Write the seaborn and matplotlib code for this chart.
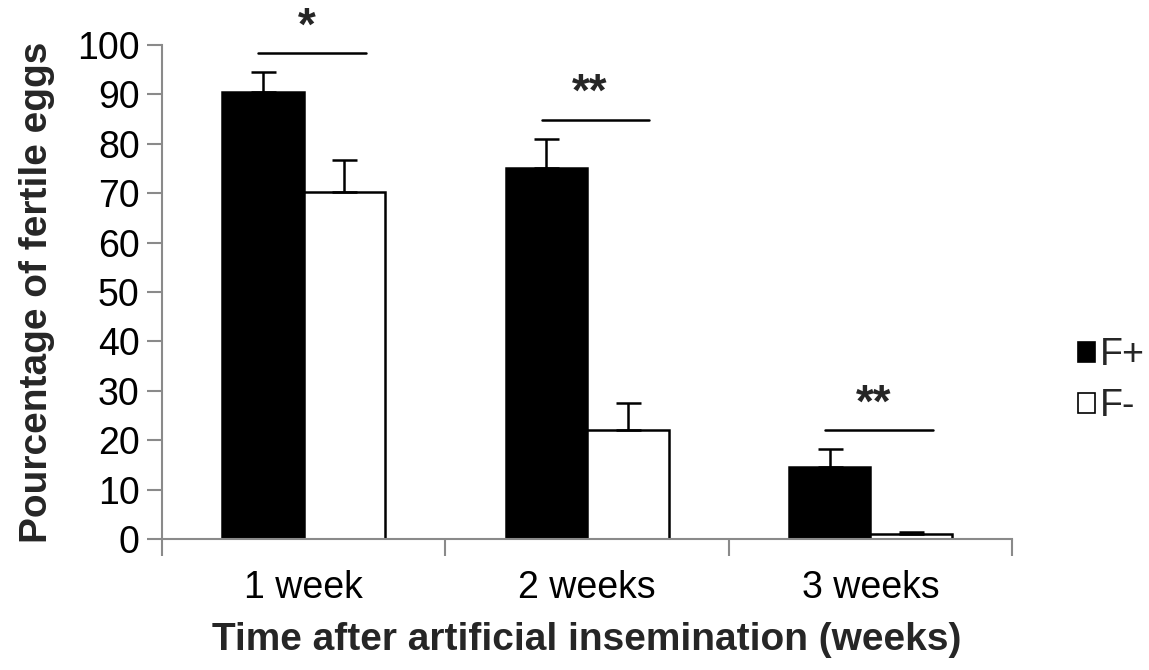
import numpy as np
import pandas as pd
import matplotlib
matplotlib.use("Agg")
import matplotlib.pyplot as plt
import seaborn as sns
from matplotlib.patches import Patch

# =====================================================
# DATA
# =====================================================

weeks = ["1 week", "2 weeks", "3 weeks"]
groups = ["F+", "F-"]

f_plus_mean = [90.4, 75.2, 14.6]
f_plus_err = [4.1, 5.7, 3.6]
f_minus_mean = [70.2, 22.1, 1.0]
f_minus_err = [6.5, 5.4, 0.4]

sig_labels = ["*", "**", "**"]
sig_heights = [98.3, 84.8, 22.0]

df = pd.DataFrame({
    "week": weeks * 2,
    "group": ["F+"] * 3 + ["F-"] * 3,
    "value": f_plus_mean + f_minus_mean,
    "err": f_plus_err + f_minus_err,
})

# =====================================================
# STYLE
# =====================================================

sns.set_theme(style="white")
plt.rcParams["font.family"] = ["Liberation Sans", "DejaVu Sans"]

GREY = "#8a8a8a"

fig = plt.figure(figsize=(11.49, 6.70), dpi=100)
ax = fig.add_axes([0.141, 0.1955, 0.7399, 0.7373])

# =====================================================
# BARS
# =====================================================

sns.barplot(
    data=df,
    x="week",
    y="value",
    hue="group",
    hue_order=groups,
    order=weeks,
    palette={"F+": "black", "F-": "white"},
    edgecolor="black",
    linewidth=1.8,
    width=0.575,
    gap=0,
    errorbar=None,
    legend=False,
    ax=ax,
)

# error bars (upper only), placed on the drawn bars
for patch, (_, row) in zip(ax.patches, df.iterrows()):
    cx = patch.get_x() + patch.get_width() / 2
    ax.errorbar(
        cx, row["value"],
        yerr=[[0], [row["err"]]],
        fmt="none",
        ecolor="black",
        elinewidth=1.8,
        capsize=9,
        capthick=1.8,
        zorder=3,
    )

# significance lines and stars
for i, (lab, h) in enumerate(zip(sig_labels, sig_heights)):
    ax.plot([i - 0.16, i + 0.22], [h, h], color="black", lw=1.8,
            clip_on=False)
    ax.text(i + 0.01, h + 0.8, lab, ha="center", va="bottom",
            fontsize=33, fontweight="bold", clip_on=False)

# =====================================================
# AXES
# =====================================================

ax.set_xlim(-0.5, 2.5)
ax.set_ylim(0, 100)
ax.set_yticks(np.arange(0, 101, 10))

ax.set_xticks([-0.5, 0.5, 1.5, 2.5], minor=True)
ax.tick_params(axis="x", which="major", length=0, pad=22, labelsize=27,
               labelcolor="black")
ax.tick_params(axis="x", which="minor", length=12, width=1.5,
               color=GREY, direction="out", bottom=True)
ax.tick_params(axis="y", length=11, width=1.5, color=GREY, left=True,
               direction="out", pad=5, labelsize=27, labelcolor="black")

for side in ["top", "right"]:
    ax.spines[side].set_visible(False)
for side in ["left", "bottom"]:
    ax.spines[side].set_color(GREY)
    ax.spines[side].set_linewidth(1.5)

ax.set_xlabel("Time after artificial insemination (weeks)",
              fontsize=28, fontweight="bold", labelpad=12)
ax.set_ylabel("Pourcentage of fertile eggs",
              fontsize=28, fontweight="bold", labelpad=16)

# legend
handles = [
    Patch(facecolor="black", edgecolor="black", linewidth=1.2),
    Patch(facecolor="white", edgecolor="black", linewidth=1.2),
]
fig.legend(
    handles, groups,
    loc="center left",
    bbox_to_anchor=(0.938, 0.432),
    frameon=False,
    fontsize=27,
    handlelength=0.45,
    handleheight=0.45,
    handletextpad=0.15,
    labelspacing=0.4,
    borderaxespad=0,
    borderpad=0,
)

fig.savefig("out.png", dpi=100)
